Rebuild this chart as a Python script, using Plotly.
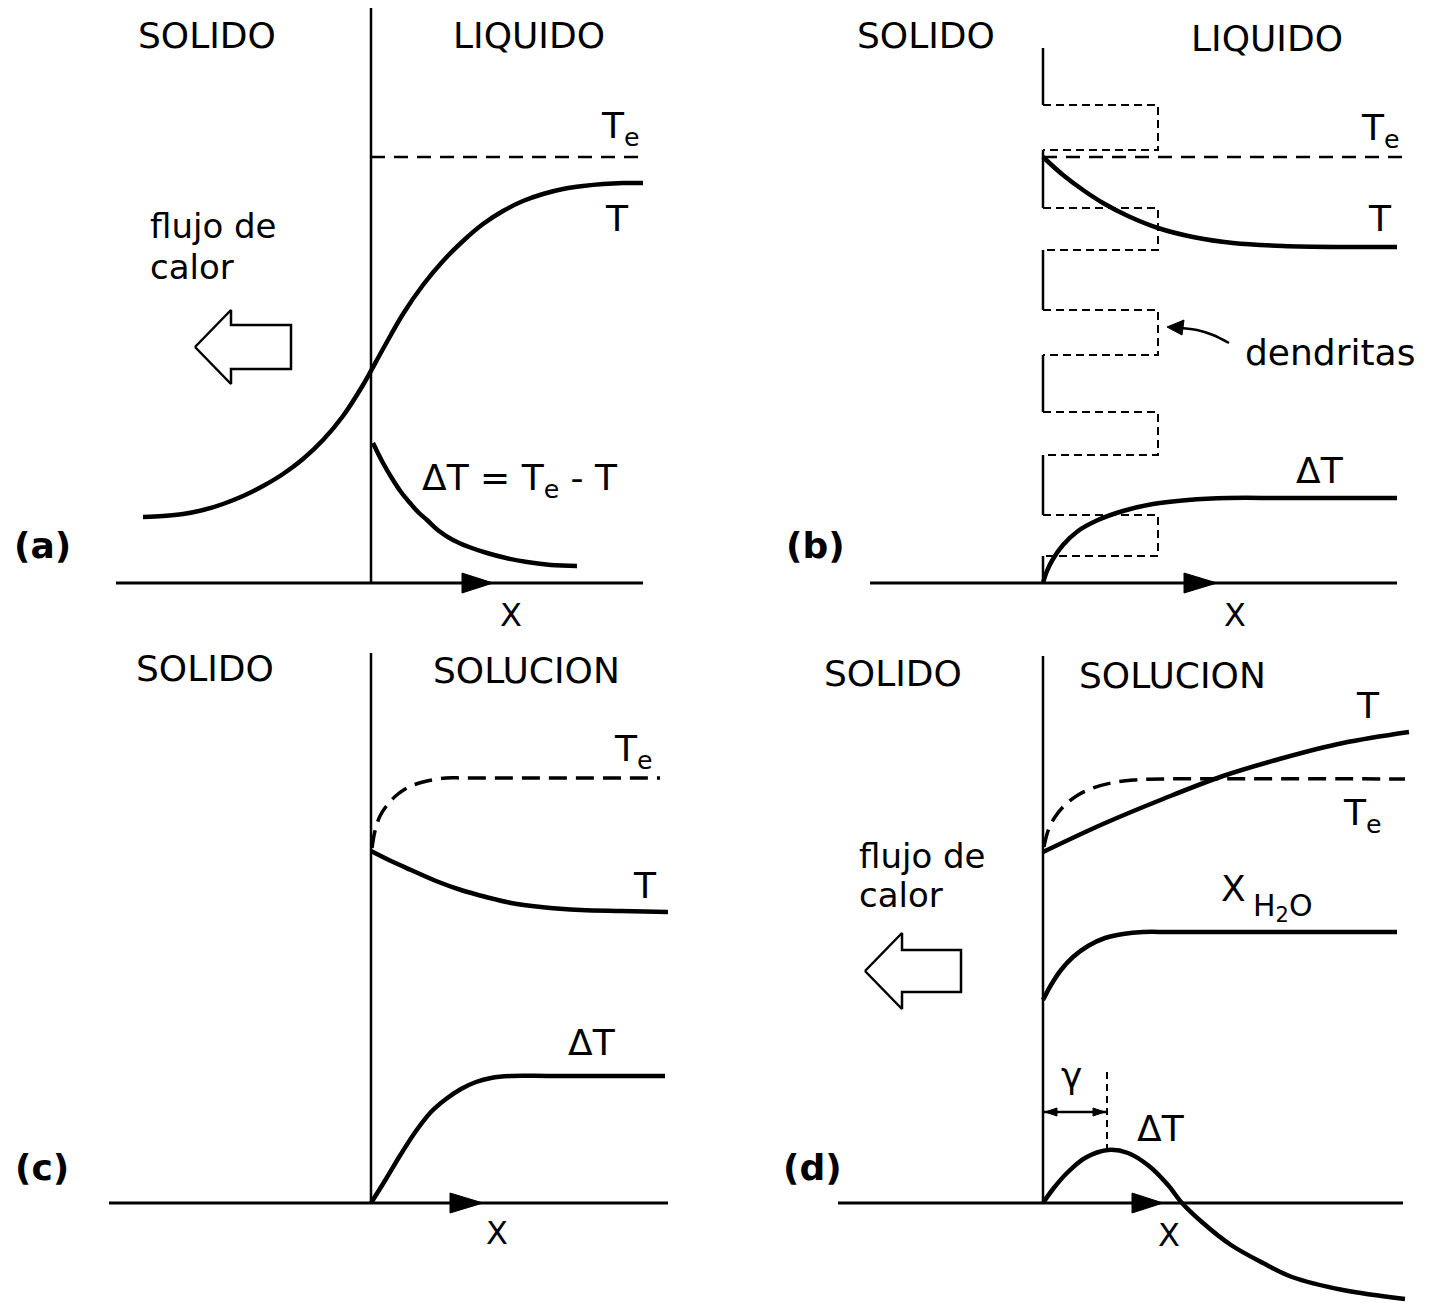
import plotly.graph_objects as go

# ---------------------------------------------------------------------------
# Profiles for the four panels. Coordinates are local to each panel:
# x = distance from the solid/liquid interface, y = height above the x axis.
# ---------------------------------------------------------------------------

# (a) pure liquid, heat flowing into the solid
A_T_X = [-228, -208, -188, -168, -148, -128, -108, -88, -68, -48, -28, -8, 12, 32, 52, 72, 92,
         112, 132, 152, 172, 192, 212, 232, 252, 272]
A_T_Y = [66, 67, 69, 73, 79, 87, 97, 109, 124, 143, 167, 198, 234, 269, 298, 322, 342,
         359, 372, 382, 389, 394, 397, 399, 400, 400]
A_TE_X = [0, 272]
A_TE_Y = [426, 426]
A_DT_X = [2, 12, 22, 30, 39, 47, 56, 68, 82, 98, 116, 135, 156, 180, 206]
A_DT_Y = [140, 120, 103, 91, 80, 71, 63, 52, 43, 36, 30, 25, 21, 18, 17]

# (b) undercooled liquid, dendritic growth
B_T_X = [0, 20, 40, 60, 85, 115, 150, 190, 240, 300, 354]
B_T_Y = [426, 408, 393, 380, 367, 355, 346, 340, 337, 336, 336]
B_TE_X = [0, 362]
B_TE_Y = [426, 426]
B_DT_X = [0, 4, 10, 20, 35, 55, 80, 110, 145, 185, 240, 354]
B_DT_Y = [0, 12, 24, 38, 52, 63, 72, 79, 83, 85, 85, 85]
B_SOLID_SEG = [(535, 478), (433, 375), (333, 273), (228, 171), (128, 68), (27, 0)]
B_DENDRITES = [(478, 433), (375, 333), (273, 228), (171, 128), (68, 27)]
B_DENDRITE_LEN = 115

# (c) solution, heat removed through the liquid
C_T_X = [0, 20, 40, 65, 90, 115, 140, 170, 210, 250, 297]
C_T_Y = [352, 342, 333, 322, 313, 306, 300, 296, 293, 292, 291]
C_TE_X = [1, 4, 9, 17, 27, 40, 56, 75, 95, 289]
C_TE_Y = [355, 372, 387, 399, 409, 417, 422, 425, 425, 425]
C_DT_X = [0, 15, 30, 45, 60, 75, 90, 105, 120, 140, 180, 294]
C_DT_Y = [0, 24, 49, 72, 91, 104, 114, 121, 125, 127, 127, 127]

# (d) solution, heat removed through the solid
D_T_X = [0, 60, 120, 180, 240, 300, 366]
D_T_Y = [351, 379, 404, 427, 445, 460, 471]
D_TE_X = [1, 5, 12, 22, 35, 50, 68, 90, 120, 362]
D_TE_Y = [356, 372, 386, 398, 408, 415, 420, 423, 424, 424]
D_XW_X = [0, 8, 18, 30, 45, 62, 80, 100, 130, 354]
D_XW_Y = [203, 218, 233, 246, 257, 265, 269, 271, 271, 271]
D_DT_X = [0, 10, 24, 42, 65, 85, 106, 125, 139, 160, 188, 220, 249, 300, 362]
D_DT_Y = [0, 14, 30, 45, 53, 50, 37, 18, 0, -20, -42, -60, -74, -87, -96]
D_GAMMA = 64

# Panel frame: interface height, x-axis extent, axis arrow position
PANELS = {
    "a": dict(origin=(371, 583), top=575, axis=(-255, 272), arrow=(91, 122)),
    "b": dict(origin=(1043, 583), top=None, axis=(-173, 354), arrow=(141, 174)),
    "c": dict(origin=(371, 1203), top=550, axis=(-262, 297), arrow=(79, 112)),
    "d": dict(origin=(1043, 1203), top=547, axis=(-205, 360), arrow=(89, 120)),
}
W, H = 1444, 1303
REFS = {"a": ("x", "y"), "b": ("x2", "y2"), "c": ("x3", "y3"), "d": ("x4", "y4")}

FONT = "DejaVu Sans"
INK = "black"

fig = go.Figure()


def line(p, xs, ys, width=4.5, dash="solid", shape="spline"):
    xr, yr = REFS[p]
    fig.add_trace(go.Scatter(
        x=xs, y=ys, mode="lines", xaxis=xr, yaxis=yr, hoverinfo="skip",
        line=dict(color=INK, width=width, dash=dash, shape=shape, smoothing=1.0),
        showlegend=False))


def poly(p, xs, ys, filled=True, width=2.5):
    xr, yr = REFS[p]
    fig.add_trace(go.Scatter(
        x=xs + [xs[0]], y=ys + [ys[0]], mode="lines", xaxis=xr, yaxis=yr,
        hoverinfo="skip", fill="toself" if filled else None,
        fillcolor=INK if filled else None,
        line=dict(color=INK, width=width), showlegend=False))


def text(p, x, y, s, size=36, xanchor="center", weight="normal"):
    xr, yr = REFS[p]
    fig.add_annotation(x=x, y=y, xref=xr, yref=yr, text=s, showarrow=False,
                       xanchor=xanchor, yanchor="middle",
                       font=dict(family=FONT, size=size, color=INK, weight=weight))


def heat_arrow(p, tip, head_x, head_half, shaft_half, tail_x):
    tx, ty = tip
    xs = [tx, head_x, head_x, tail_x, tail_x, head_x, head_x]
    ys = [ty, ty + head_half, ty + shaft_half, ty + shaft_half,
          ty - shaft_half, ty - shaft_half, ty - head_half]
    poly(p, xs, ys, filled=False, width=2.5)


# Frames: interface line, x axis, direction arrow
for p, cfg in PANELS.items():
    if cfg["top"] is not None:
        line(p, [0, 0], [cfg["top"], 0], width=2.5, shape="linear")
    line(p, list(cfg["axis"]), [0, 0], width=3, shape="linear")
    a0, a1 = cfg["arrow"]
    poly(p, [a0, a1, a0], [10, 0, -10], filled=True, width=1)

# ----- (a)
line("a", A_TE_X, A_TE_Y, width=2.5, dash="14px,9px", shape="linear")
line("a", A_T_X, A_T_Y)
line("a", A_DT_X, A_DT_Y)
heat_arrow("a", (-176, 236), -140, 37, 22, -80)
text("a", -164, 548, "SOLIDO")
text("a", 158, 548, "LIQUIDO")
text("a", 249, 455, "T<sub>e</sub>")
text("a", 246, 365, "T")
text("a", -223, 357, "flujo de", size=34, xanchor="left")
text("a", -223, 316, "calor", size=34, xanchor="left")
text("a", 149, 103, "ΔT = T<sub>e</sub> - T")
text("a", 140, -32, "X", size=32)
text("a", -329, 38, "(a)", weight="bold")

# ----- (b)
xs, ys = [], []
for top, bot in B_SOLID_SEG:
    xs += [0, 0, None]
    ys += [top, bot, None]
line("b", xs, ys, width=2.5, shape="linear")
xs, ys = [], []
for top, bot in B_DENDRITES:
    xs += [0, B_DENDRITE_LEN, B_DENDRITE_LEN, 0, None]
    ys += [top, top, bot, bot, None]
line("b", xs, ys, width=2, dash="8px,5px", shape="linear")
line("b", B_TE_X, B_TE_Y, width=2.5, dash="14px,9px", shape="linear")
line("b", B_T_X, B_T_Y)
line("b", B_DT_X, B_DT_Y)
line("b", [186, 170, 154, 138], [240, 248, 253, 255], width=2.5)
poly("b", [124, 141, 139], [256, 263, 248], filled=True, width=1)
text("b", -117, 548, "SOLIDO")
text("b", 224, 545, "LIQUIDO")
text("b", 337, 453, "T<sub>e</sub>")
text("b", 337, 365, "T")
text("b", 287, 231, "dendritas")
text("b", 277, 113, "ΔT")
text("b", 192, -32, "X", size=32)
text("b", -228, 38, "(b)", weight="bold")

# ----- (c)
line("c", C_TE_X, C_TE_Y, width=3.5, dash="18px,9px")
line("c", C_T_X, C_T_Y)
line("c", C_DT_X, C_DT_Y)
text("c", -166, 535, "SOLIDO")
text("c", 155, 533, "SOLUCION")
text("c", 262, 452, "T<sub>e</sub>")
text("c", 274, 318, "T")
text("c", 221, 161, "ΔT")
text("c", 126, -30, "X", size=32)
text("c", -329, 36, "(c)", weight="bold")

# ----- (d)
line("d", D_TE_X, D_TE_Y, width=3.5, dash="18px,9px")
line("d", D_T_X, D_T_Y)
line("d", D_XW_X, D_XW_Y)
line("d", D_DT_X, D_DT_Y)
heat_arrow("d", (-178, 232), -141, 38, 21, -82)
line("d", [D_GAMMA, D_GAMMA], [131, 53], width=2, dash="7px,5px", shape="linear")
line("d", [0, D_GAMMA], [91, 91], width=2.5, shape="linear")
poly("d", [2, 14, 14], [91, 95, 87], filled=True, width=1)
poly("d", [D_GAMMA - 2, D_GAMMA - 14, D_GAMMA - 14], [91, 95, 87], filled=True, width=1)
text("d", -150, 530, "SOLIDO")
text("d", 129, 528, "SOLUCION")
text("d", 325, 498, "T")
text("d", 319, 388, "T<sub>e</sub>")
text("d", -186, 347, "flujo de", size=34, xanchor="left")
text("d", -186, 308, "calor", size=34, xanchor="left")
text("d", 190, 315, "X")
text("d", 208, 296, "H<sub>2</sub>O", size=30, xanchor="left")
text("d", 28, 128, "γ")
text("d", 118, 75, "ΔT")
text("d", 126, -32, "X", size=32)
text("d", -231, 36, "(d)", weight="bold")

# One invisible axis pair per panel, shifted so the interface is the origin
layout_axes = {}
for i, (p, cfg) in enumerate(PANELS.items()):
    ox, oy = cfg["origin"]
    suffix = "" if i == 0 else str(i + 1)
    xa = dict(range=[-ox, W - ox], domain=[0, 1], visible=False, fixedrange=True)
    ya = dict(range=[oy - H, oy], domain=[0, 1], visible=False, fixedrange=True)
    if i > 0:
        xa["anchor"] = "y" + suffix
        ya["anchor"] = "x" + suffix
        xa["overlaying"] = "x"
        ya["overlaying"] = "y"
    layout_axes["xaxis" + suffix] = xa
    layout_axes["yaxis" + suffix] = ya

fig.update_layout(
    width=W, height=H, margin=dict(l=0, r=0, t=0, b=0),
    paper_bgcolor="white", plot_bgcolor="white", showlegend=False,
    **layout_axes,
)

fig.write_html("out.html")
